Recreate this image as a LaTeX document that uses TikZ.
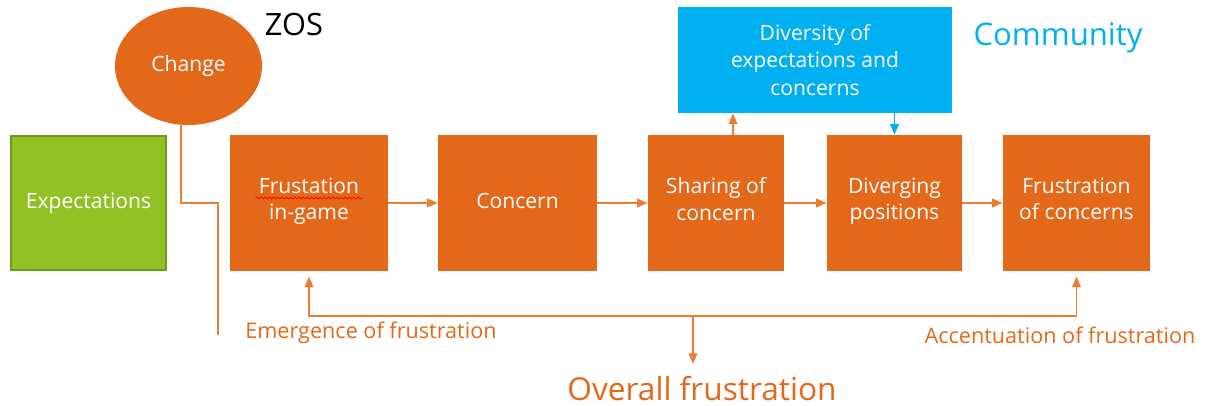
\documentclass[tikz,border=0pt]{standalone}
\usepackage{fontspec}
\setmainfont{Open Sans}
\usetikzlibrary{arrows.meta,shapes.geometric,decorations.pathmorphing}

\definecolor{boxorange}{RGB}{228,104,26}
\definecolor{lineorange}{RGB}{238,125,52}
\definecolor{leafgreen}{RGB}{146,193,38}
\definecolor{leafedge}{RGB}{110,155,30}
\definecolor{skyblue}{RGB}{0,176,240}

\tikzset{
    stage/.style={rectangle,fill=boxorange,text=white,inner sep=0pt,minimum height=2.72cm,
        align=center,font=\fontsize{12}{15}\selectfont,
        execute at begin node=\strut,execute at end node=\strut},
    link/.style={draw=lineorange,line width=0.7pt},
    arr/.style={link,-{Triangle[length=6pt,width=5pt]}},
    tag/.style={text=boxorange,inner sep=0pt,font=\fontsize{12.3}{15}\selectfont}
}

\begin{document}
    \begin{tikzpicture}[x=0.02cm,y=-0.02cm]
        \useasboundingbox (0,0) rectangle (1208,406);

        \node[ellipse,fill=boxorange,text=white,inner sep=0pt,minimum width=2.94cm,minimum height=2.36cm,
            font=\fontsize{12}{15}\selectfont] (change) at (188.5,66) {Change};
        \node[inner sep=0pt,font=\fontsize{17.5}{20}\selectfont] (zos) at (294,25) {ZOS};

        \node[rectangle,fill=leafgreen,draw=leafedge,line width=1.2pt,text=white,inner sep=0pt,
            minimum width=3.1cm,minimum height=2.68cm,font=\fontsize{12}{15}\selectfont] (expect) at (88.5,203) {Expectations};

        \node[stage,minimum width=3.16cm] (frin) at (309,203) {Frustation\\in-game};
        \node[stage,minimum width=3.18cm] (concern) at (517.5,203) {Concern};
        \node[stage,minimum width=2.72cm] (share) at (716,203) {Sharing of\\concern};
        \node[stage,minimum width=2.70cm] (diverg) at (894.5,203) {Diverging\\positions};
        \node[stage,minimum width=2.94cm] (frcon) at (1076.5,203) {Frustration\\of concerns};

        \node[rectangle,fill=skyblue,text=white,inner sep=0pt,minimum width=5.48cm,minimum height=2.12cm,
            align=center,font=\fontsize{12}{15.5}\selectfont] (divers) at (815,60) {Diversity of\\expectations and\\concerns};
        \node[text=skyblue,inner sep=0pt,font=\fontsize{17.7}{20}\selectfont] (community) at (1058,38) {Community};

        \node[tag] (emerge) at (371,333) {Emergence of frustration};
        \node[tag] (accent) at (1060,335) {Accentuation of frustration};
        \node[tag,font=\fontsize{18}{20}\selectfont] (overall) at (702,388.5) {Overall frustration};

        \draw[red,line width=0.4pt,decorate,decoration={snake,amplitude=0.6pt,segment length=2.4pt}]
            ([xshift=-1.07cm,yshift=0.1cm]frin.center) -- ([xshift=1.07cm,yshift=0.1cm]frin.center);

        \coordinate (zos-end) at (218,335);
        \draw[link] ([xshift=-0.15cm]change.south) |- (zos-end |- expect.east) -- (zos-end);

        \draw[arr] (frin) -- (concern);
        \draw[arr] (concern) -- (share);
        \draw[arr] (share) -- (diverg);
        \draw[arr] (diverg) -- (frcon);

        \draw[arr] ([xshift=0.34cm]share.north) -- ([xshift=0.34cm]share.north |- divers.south);
        \draw[arr,draw=skyblue] (divers.south -| diverg.north) -- (diverg.north);

        \coordinate (split) at (693,316);
        \draw[arr,shorten >=3pt] (split) -| (frin.south);
        \draw[arr,shorten >=3pt] (split) -| (frcon.south);
        \draw[arr,shorten >=6.8pt] (split) -- (split |- overall.north);
    \end{tikzpicture}
\end{document}
